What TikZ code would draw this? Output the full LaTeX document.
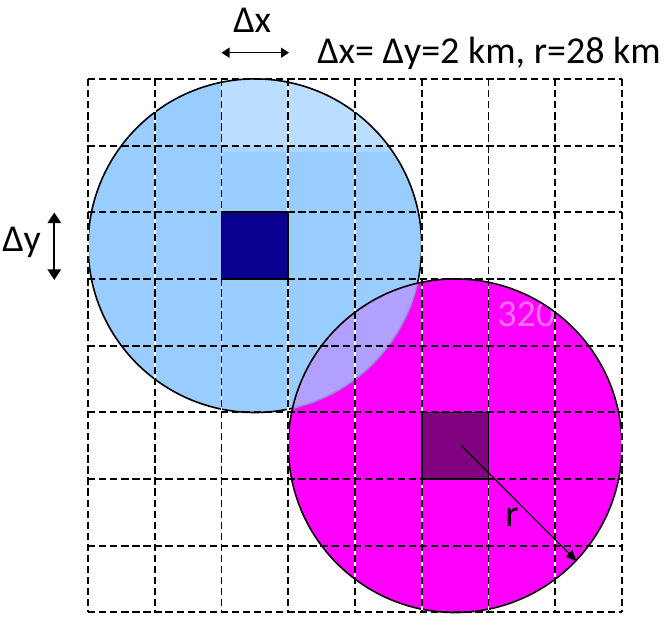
\documentclass[tikz,border=0pt]{standalone}
\usepackage{fontspec}
\setmainfont{Carlito}
\usetikzlibrary{arrows.meta,calc}
\definecolor{cblue}{RGB}{153,204,255}
\definecolor{cbluelt}{RGB}{187,221,255}
\definecolor{cblueband}{RGB}{172,214,255}
\definecolor{cnavy}{RGB}{12,0,144}
\definecolor{cmag}{RGB}{255,0,255}
\definecolor{cpurp}{RGB}{128,0,128}
\definecolor{clens}{RGB}{178,160,255}
\definecolor{carc}{RGB}{140,150,205}
\definecolor{cpink}{RGB}{255,110,255}
\begin{document}
\begin{tikzpicture}[x=0.75pt,y=-0.75pt,
  lbl/.style={font=\fontsize{28.5}{34}\selectfont, inner sep=0pt, anchor=base west},
  gridline/.style={line width=1.35pt, dash pattern=on 5.5pt off 2.8pt},
  gridunder/.style={line width=1.35pt, white},
  rim/.style={line width=1.2pt, black},
  cellbox/.style={line width=1.2pt, draw=black},
  dimarrow/.style={line width=1.1pt, {Triangle[width=7.5pt,length=6pt]}-{Triangle[width=7.5pt,length=6pt]}},
  dimarrowv/.style={line width=1.6pt, {Triangle[width=10pt,length=8pt]}-{Triangle[width=10pt,length=8pt]}},
  radarrow/.style={line width=0.9pt, -{Triangle[width=7pt,length=8pt]}}]
\useasboundingbox (0,0) rectangle (664,620);
\def\R{166.8}
\coordinate (bc) at (254.9,245.7);
\coordinate (mc) at (455.1,445.7);
% blue circle
\fill[cblue] (bc) circle[radius=\R];
\begin{scope}
  \clip (bc) circle[radius=\R];
  \fill[cbluelt] (221.5,70) rectangle (440,145.7);
  \fill[cblueband] (221.5,145.7) rectangle (440,152);
\end{scope}
\fill[cnavy] (221.5,212.3) rectangle (288.25,279);
\draw[rim] (bc) circle[radius=\R];
% magenta circle
\fill[cmag] (mc) circle[radius=\R];
\begin{scope}
  \clip (mc) circle[radius=\R];
  \fill[clens] (bc) circle[radius=\R];
  \draw[line width=1.1pt, carc] (bc) circle[radius=\R];
  \node[lbl, text=cpink] (watermark) at (497,327) {320};
\end{scope}
\fill[cpurp] (421.75,412.35) rectangle (488.5,479);
\draw[rim] (mc) circle[radius=\R];
% grid
\foreach \i in {0,...,8} {
  \draw[gridunder] (88+66.75*\i,79) -- (88+66.75*\i,612.3);
}
\foreach \i in {0,...,8} {
  \draw[gridline] (88+66.75*\i,79) -- (88+66.75*\i,612.3);
  \draw[gridline] (88,79+66.66*\i) -- (622,79+66.66*\i);
}
\draw[cellbox] (221.5,212.3) rectangle (288.25,279);
\draw[cellbox] (421.75,412.35) rectangle (488.5,479);
% radius arrow
\coordinate (rstart) at (461.5,445.7);
\coordinate (redge) at (576.5,561);
\draw[radarrow] (rstart) -- (redge);
\node[lbl] (rlab) at (505,526.5) {r};
% dimension arrows
\coordinate (dxl) at (221.5,52.7);
\coordinate (dxr) at (289,52.7);
\draw[dimarrow] (dxl) -- (dxr);
\node[lbl] (dxlab) at (233,32.5) {Δx};
\coordinate (dyt) at (54.3,212.5);
\coordinate (dyb) at (54.3,280);
\draw[dimarrowv] (dyt) -- (dyb);
\node[lbl] (dylab) at (2,252) {Δy};
\node[lbl] (title) at (317,63.5) {Δx= Δy=2 km, r=28 km};
\end{tikzpicture}
\end{document}
